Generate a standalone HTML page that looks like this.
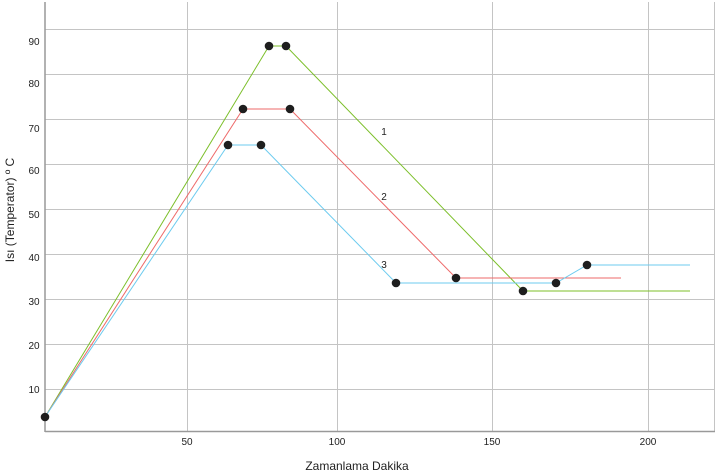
<!DOCTYPE html><html><head><style>body{margin:0;background:#fff}svg{display:block;font-family:"Liberation Sans",sans-serif}</style></head><body>
<svg width="715" height="474" viewBox="0 0 715 474">
<g stroke="#c4c4c4" stroke-width="1">
<line x1="45" x2="715" y1="29.5" y2="29.5"/><line x1="45" x2="715" y1="74.5" y2="74.5"/><line x1="45" x2="715" y1="119.5" y2="119.5"/><line x1="45" x2="715" y1="164.5" y2="164.5"/><line x1="45" x2="715" y1="209.5" y2="209.5"/><line x1="45" x2="715" y1="254.5" y2="254.5"/><line x1="45" x2="715" y1="299.5" y2="299.5"/><line x1="45" x2="715" y1="344.5" y2="344.5"/><line x1="45" x2="715" y1="389.5" y2="389.5"/>
<line x1="187.5" x2="187.5" y1="2" y2="431"/><line x1="337.5" x2="337.5" y1="2" y2="431"/><line x1="492.5" x2="492.5" y1="2" y2="431"/><line x1="648.5" x2="648.5" y1="2" y2="431"/><line x1="714.5" x2="714.5" y1="2" y2="431"/>
</g>
<g stroke="#999" stroke-width="1.5"><line x1="45" x2="45" y1="2" y2="432"/><line x1="45" x2="715" y1="431.5" y2="431.5"/></g>
<g fill="none" stroke-width="1">
<polyline stroke="#7cbf2a" points="45,417 269,46 286,46 523,291 690,291"/>
<polyline stroke="#ee6a6a" points="45,417 243,109 290,109 456,278 621,278"/>
<polyline stroke="#6ccbef" points="45,417 228,145 261,145 396,283 556,283 587,265 690,265"/>
</g>
<g fill="#1e1e1e">
<circle cx="45" cy="417" r="4.3"/><circle cx="269" cy="46" r="4.3"/><circle cx="286" cy="46" r="4.3"/><circle cx="523" cy="291" r="4.3"/>
<circle cx="243" cy="109" r="4.3"/><circle cx="290" cy="109" r="4.3"/><circle cx="456" cy="278" r="4.3"/>
<circle cx="228" cy="145" r="4.3"/><circle cx="261" cy="145" r="4.3"/><circle cx="396" cy="283" r="4.3"/><circle cx="556" cy="283" r="4.3"/><circle cx="587" cy="265" r="4.3"/>
</g>
<g font-size="10" fill="#222" text-anchor="middle">
<text x="34" y="45">90</text><text x="34" y="87">80</text><text x="34" y="132">70</text><text x="34" y="174">60</text><text x="34" y="218">50</text><text x="34" y="261">40</text><text x="34" y="305">30</text><text x="34" y="349">20</text><text x="34" y="393">10</text>
<text x="187" y="445">50</text><text x="337" y="445">100</text><text x="492" y="445">150</text><text x="648" y="445">200</text>
<text x="384" y="135">1</text><text x="384" y="200">2</text><text x="384" y="268">3</text>
</g>
<text x="357" y="470" font-size="12" fill="#222" text-anchor="middle">Zamanlama Dakika</text>
<text transform="translate(14,210) rotate(-90)" font-size="12" fill="#222" text-anchor="middle">Isı (Temperator) º C</text>
</svg></body></html>
